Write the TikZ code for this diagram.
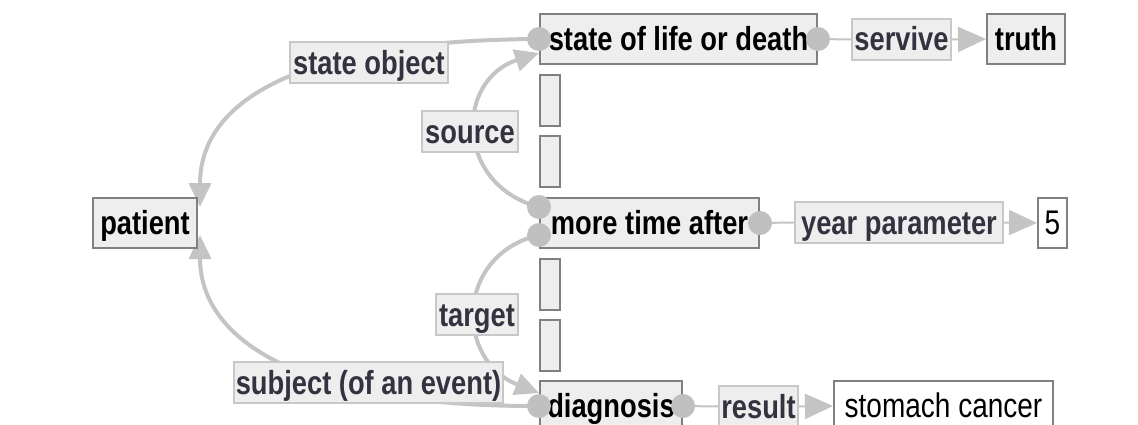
\documentclass[tikz,border=0pt]{standalone}
\usepackage{fontspec}
\setmainfont{Liberation Sans}
\usetikzlibrary{arrows.meta}
\pgfdeclarelayer{bg}
\pgfsetlayers{bg,main}
\definecolor{boxfill}{HTML}{EEEEEE}
\definecolor{nodeborder}{HTML}{808080}
\definecolor{relborder}{HTML}{C8C8C8}
\definecolor{dotgray}{HTML}{C0C0C0}
\definecolor{linegray}{HTML}{C4C4C4}
\definecolor{reltext}{HTML}{333340}
\newcommand\vtext[1]{\scalebox{1}[1.22]{#1}}
\begin{document}
\begin{tikzpicture}[x=1pt,y=-1pt,
  concept/.style={draw=nodeborder, line width=2pt, fill=boxfill, inner sep=0pt,
    minimum height=50pt, text height=26pt, text depth=3pt, text=black,
    font=\bfseries\fontsize{27.3}{30}\selectfont},
  plainbox/.style={concept, fill=white, font=\fontsize{28}{30}\selectfont},
  rel/.style={draw=relborder, line width=2pt, fill=boxfill, inner sep=0pt,
    minimum height=41pt, text height=26pt, text depth=3pt, text=reltext,
    font=\bfseries\fontsize{27.3}{30}\selectfont},
  slot/.style={draw=nodeborder, line width=2pt, fill=boxfill, inner sep=0pt,
    minimum width=20pt, minimum height=51pt},
  dot/.style={circle, fill=dotgray, inner sep=0pt, minimum size=24pt},
  arcline/.style={draw=linegray, line width=4pt},
  thinline/.style={draw=linegray, line width=2pt},
  bigtip/.style={-{Triangle[length=28pt,width=25pt]}},
  curvetip/.style={-{Triangle[length=24pt,width=22pt]}}
]
\useasboundingbox (0,0) rectangle (1138,425);

% concept nodes
\node[concept, minimum width=277pt] (life) at (678.5,39) {\vtext{state of life or death}};
\node[concept, minimum width=78pt] (truth) at (1026,39) {\vtext{truth}};
\node[concept, minimum width=219pt] (more) at (649.5,223) {\vtext{more time after}};
\node[plainbox, minimum width=29pt] (five) at (1052.5,223) {\vtext{5}};
\node[concept, minimum width=142pt] (diag) at (611,406) {\vtext{diagnosis}};
\node[plainbox, minimum width=219pt] (stomach) at (943.5,406) {\vtext{stomach cancer}};
\node[concept, minimum width=104pt] (patient) at (145,223) {\vtext{patient}};

% relation labels
\node[rel, minimum width=99pt] (servive) at (901.5,39.5) {\vtext{servive}};
\node[rel, minimum width=208pt] (year) at (899,222.5) {\vtext{year parameter}};
\node[rel, minimum width=79pt] (result) at (758.5,406.5) {\vtext{result}};
\node[rel, minimum width=158pt] (stobj) at (369,63) {\vtext{state object}};
\node[rel, minimum width=96pt] (source) at (470,131.5) {\vtext{source}};
\node[rel, minimum width=82pt] (target) at (477,314.5) {\vtext{target}};
\node[rel, minimum width=269pt] (subject) at (368.5,382.5) {\vtext{subject (of an event)}};

% small slots
\node[slot] (s1) at (550,100.5) {};
\node[slot] (s2) at (550,161.5) {};
\node[slot] (s3) at (550,284) {};
\node[slot] (s4) at (550,345.5) {};

% connectors
\begin{pgfonlayer}{bg}
\draw[arcline, curvetip] (life.west) .. controls (300,40) and (200,100) .. ([xshift=2pt,yshift=16pt]patient.east);
\draw[arcline, curvetip] ([yshift=16pt]more.west) .. controls (455,185) and (455,80) .. ([yshift=-14pt]life.west);
\draw[arcline, curvetip] ([yshift=-12pt]more.west) .. controls (455,255) and (455,360) .. ([yshift=13pt]diag.west);
\draw[arcline, curvetip] (diag.west) .. controls (300,407) and (200,340) .. ([xshift=2pt,yshift=-12pt]patient.east);
\draw[thinline] (life.east) -- (servive.west);
\draw[thinline, bigtip] (servive.east) -- (truth.west);
\draw[thinline] (more.east) -- (year.west);
\draw[thinline, bigtip] (year.east) -- (five.west);
\draw[thinline] (diag.east) -- (result.west);
\draw[thinline, bigtip] (result.east) -- (stomach.west);
\end{pgfonlayer}

% attachment dots
\node[dot] (d1) at (life.west) {};
\node[dot] (d2) at (life.east) {};
\node[dot] (d3) at ([yshift=16pt]more.west) {};
\node[dot] (d4) at ([yshift=-12pt]more.west) {};
\node[dot] (d5) at (more.east) {};
\node[dot] (d6) at (diag.west) {};
\node[dot] (d7) at (diag.east) {};
\end{tikzpicture}
\end{document}
